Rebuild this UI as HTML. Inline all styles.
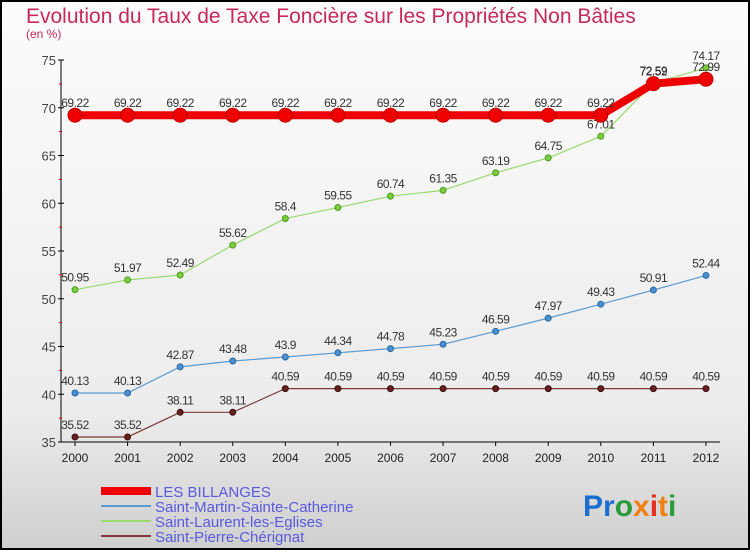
<!DOCTYPE html>
<html><head><meta charset="utf-8"><style>
body{margin:0;}
#c{width:750px;height:550px;position:relative;overflow:hidden;font-family:"Liberation Sans",sans-serif;}
</style></head><body>
<div id="c">
<svg id="s" width="750" height="550" xmlns="http://www.w3.org/2000/svg">
<defs><linearGradient id="bg" x1="0" y1="0" x2="0" y2="1"><stop offset="0" stop-color="#fcfcfc"/><stop offset="0.75" stop-color="#ececec"/><stop offset="1" stop-color="#cfcfcf"/></linearGradient></defs>
<rect x="1" y="1" width="748" height="548" fill="url(#bg)" stroke="#000" stroke-width="2"/>
<text x="26" y="23" font-size="21" fill="#c8285a">Evolution du Taux de Taxe Foncière sur les Propriétés Non Bâties</text>
<text x="26" y="38" font-size="12" fill="#c8285a">(en %)</text>
<g id="axes"></g><g id="series"></g><g id="legend"></g>
<text x="583" y="516" font-size="30" font-weight="bold" fill="#1a6fd0">Pr<tspan fill="#2a9a3a">o</tspan><tspan fill="#f08010">x</tspan><tspan fill="#e03020">i</tspan><tspan fill="#f08010">t</tspan><tspan fill="#2a9a3a">i</tspan></text>
</svg>
</div>
<script>
const years=[2000,2001,2002,2003,2004,2005,2006,2007,2008,2009,2010,2011,2012];
const billanges=[69.22,69.22,69.22,69.22,69.22,69.22,69.22,69.22,69.22,69.22,69.22,72.52,72.99];
const stMartin=[40.13,40.13,42.87,43.48,43.9,44.34,44.78,45.23,46.59,47.97,49.43,50.91,52.44];
const stLaurent=[50.95,51.97,52.49,55.62,58.4,59.55,60.74,61.35,63.19,64.75,67.01,72.59,74.17];
const stPierre=[35.52,35.52,38.11,38.11,40.59,40.59,40.59,40.59,40.59,40.59,40.59,40.59,40.59];
const yTicks=[35,40,45,50,55,60,65,70,75];
const NS="http://www.w3.org/2000/svg";
const X=i=>75+i*52.58;
const Y=v=>442-(v-35)*9.55;
function mk(t,a,p){const e=document.createElementNS(NS,t);for(const k in a)e.setAttribute(k,a[k]);p.appendChild(e);return e;}
const ax=document.getElementById('axes');
let e=mk('line',{x1:61,y1:Y(75),x2:61,y2:Y(35),stroke:'#000'},ax);


e=mk('line',{x1:61,y1:Y(35),x2:X(12)+14,y2:Y(35),stroke:'#000'},ax);


yTicks.forEach(v=>{
 mk('line',{x1:58,y1:Y(v),x2:64,y2:Y(v),stroke:'#000'},ax);
 if(v<75) mk('line',{x1:59,y1:Y(v+2.5),x2:62,y2:Y(v+2.5),stroke:'#e00'},ax);
 const t=mk('text',{x:56,y:Y(v)+5,'text-anchor':'end','font-size':13,fill:'#444'},ax);
 t.textContent=v;
 
 
});
years.forEach((y,i)=>{
 mk('line',{x1:X(i),y1:Y(35),x2:X(i),y2:Y(35)+4,stroke:'#000'},ax);
 const t=mk('text',{x:X(i),y:462,'text-anchor':'middle','font-size':12,fill:'#222'},ax);
 t.textContent=y;
 
 
});
const sg=document.getElementById('series');
function draw(vals,name,color,lw,r,fill,stroke){
 const g=mk('g',{},sg);
 
 
 const p=mk('polyline',{points:vals.map((v,i)=>X(i)+','+Y(v)).join(' '),fill:'none',stroke:color,'stroke-width':lw,'stroke-linejoin':'round'},g);
 
 
 vals.forEach((v,i)=>{
  const c=mk('circle',{cx:X(i),cy:Y(v),r:r,fill:fill,stroke:stroke,'stroke-width':1},g);
  
  
  const t=mk('text',{x:X(i),y:Y(v)-8,'text-anchor':'middle','font-size':12,fill:'#333','letter-spacing':'-0.5'},g);
  t.textContent=v;
  
  
 });
}
draw(stPierre,'saint-pierre-cherignat','#7a3a3a',1.2,3,'#6a1f1f','#3a1010');
draw(stMartin,'saint-martin-sainte-catherine','#5a9ad0',1.2,3,'#4a90d0','#2a6aa0');
draw(stLaurent,'saint-laurent-les-eglises','#9ad870',1.2,3,'#7ccc3c','#4a9a20');
draw(billanges,'les-billanges','#ee0000',8,7,'#ee0000','#c00000');
const lg=document.getElementById('legend');
const leg=[['LES BILLANGES','#ee0000',8],['Saint-Martin-Sainte-Catherine','#5a9ad0',2],['Saint-Laurent-les-Eglises','#9ad870',2],['Saint-Pierre-Chérignat','#7a3a3a',2]];
leg.forEach((l,i)=>{
 const y=491+i*15;
 const g=mk('g',{},lg);
 
 
 mk('line',{x1:101,y1:y,x2:151,y2:y,stroke:l[1],'stroke-width':l[2]},g);
 const t=mk('text',{x:155,y:y+6,'font-size':15,fill:'#5a5ae0'},g);
 t.textContent=l[0];
});
</script>
</body></html>
